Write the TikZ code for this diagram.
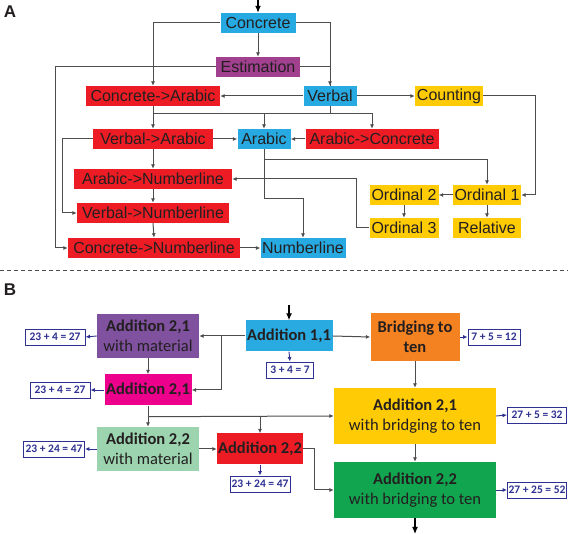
\documentclass[tikz,border=0pt]{standalone}
\usepackage{fontspec}
\setmainfont{Liberation Sans}
\newfontfamily\calfont{Carlito}
\usetikzlibrary{arrows.meta,calc}
\definecolor{txtc}{HTML}{231F20}
\definecolor{lnc}{HTML}{4D4D4D}
\definecolor{cyanA}{HTML}{27AAE1}
\definecolor{purA}{HTML}{A0408F}
\definecolor{redA}{HTML}{ED1C24}
\definecolor{yelA}{HTML}{FFCB05}
\definecolor{bBlue}{HTML}{29ABE2}
\definecolor{bOrange}{HTML}{F58220}
\definecolor{bPurple}{HTML}{7F519F}
\definecolor{bMag}{HTML}{EC008C}
\definecolor{bYel}{HTML}{FFCB05}
\definecolor{bLG}{HTML}{9DD4B0}
\definecolor{bRed}{HTML}{ED1C24}
\definecolor{bGreen}{HTML}{12A550}
\definecolor{navy}{HTML}{2E3192}
\begin{document}
\begin{tikzpicture}[x=1pt,y=-1pt,
  bA/.style={inner sep=0pt, minimum height=20, text=txtc, font=\fontsize{16}{16}\selectfont},
  bB/.style={inner sep=0pt, align=center, text=txtc, font=\calfont\fontsize{16.5}{20}\selectfont},
  eqb/.style={draw=navy, line width=0.9pt, fill=white, text=navy, inner sep=0pt, minimum height=16, font=\calfont\bfseries\fontsize{11.5}{12}\selectfont},
  arr/.style={draw=lnc, line width=1pt, -{Latex[length=4.5pt,width=4pt]}},
  ln/.style={draw=lnc, line width=1pt},
  barr/.style={draw=navy, line width=0.9pt, -{Latex[length=4.5pt,width=4pt]}},
  arrK/.style={draw=black, line width=1.2pt, -{Latex[length=7pt,width=6pt]}},
  lab/.style={font=\bfseries\fontsize{17}{17}\selectfont, text=txtc}
]
\useasboundingbox (0,0) rectangle (568,534);
% ---------- Part A ----------
\node[lab] (labA) at (10,12) {A};
\node[bA, fill=cyanA, minimum width=75] (conc) at (258,23) {Concrete};
\node[bA, fill=purA, minimum width=84] (est) at (258,67) {Estimation};
\node[bA, fill=redA, minimum width=134] (ca) at (153,96) {Concrete->Arabic};
\node[bA, fill=cyanA, minimum width=53] (verb) at (330,96) {Verbal};
\node[bA, fill=yelA, minimum width=68] (count) at (449,96) {Counting};
\node[bA, fill=redA, minimum width=120] (va) at (153,139) {Verbal->Arabic};
\node[bA, fill=cyanA, minimum width=53] (arab) at (264,139) {Arabic};
\node[bA, fill=redA, minimum width=133] (ac) at (372,139) {Arabic->Concrete};
\node[bA, fill=redA, minimum width=158] (an) at (153,179) {Arabic->Numberline};
\node[bA, fill=redA, minimum width=152] (vn) at (153,213) {Verbal->Numberline};
\node[bA, fill=redA, minimum width=172] (cn) at (154,248) {Concrete->Numberline};
\node[bA, fill=cyanA, minimum width=85] (nl) at (303,248) {Numberline};
\node[bA, fill=yelA, minimum width=69] (o2) at (404,195) {Ordinal 2};
\node[bA, fill=yelA, minimum width=68] (o1) at (487,195) {Ordinal 1};
\node[bA, fill=yelA, minimum width=69] (o3) at (404,228) {Ordinal 3};
\node[bA, fill=yelA, minimum width=68] (rel) at (487,228) {Relative};

\coordinate (topA) at (258,0);
\draw[arrK] (topA) -- (conc.north);
\draw[arr] (conc.west) -| (ca.north);
\draw[arr] (conc.east) -| (verb.north);
\draw[arr] (conc.south) -- (est.north);
\draw[ln] (est.east) -| (verb.north);
\draw[arr] (est.west) -- ++(-160,0) |- (cn.west);
\draw[arr] (verb.west) -- (ca.east);
\draw[arr] (verb.east) -- (count.west);
\draw[arr] (count.east) -- ++(52,0) |- (o1.east);
\draw[arr] (ca.south) -- (va.north);
\draw[ln] (verb.south) -- ++(0,7) coordinate (vj);
\draw[ln] (ca.south |- vj) -- (ac.north |- vj);
\draw[arr] (arab.north |- vj) -- (arab.north);
\draw[arr] (ac.north |- vj) -- (ac.north);
\draw[arr] (va.east) -- (arab.west);
\draw[arr] (ac.west) -- (arab.east);
\draw[arr] (va.south) -- (an.north);
\draw[arr] (va.west) -- ++(-30,0) |- (vn.west);
\draw[arr] (an.south) -- (vn.north);
\draw[arr] (vn.south) -- (cn.north);
\draw[arr] (cn.east) -- (nl.west);
\draw[ln] (arab.south) -- ++(0,49) coordinate (aj);
\draw[arr] ($(arab.south)+(0,10)$) -| (o1.north);
\draw[arr] (aj) -| (nl.north);
\draw[arr] (o3.west) -- ++(-13,0) |- (an.east);
\draw[arr] (o1.west) -- (o2.east);
\draw[arr] (o2.south) -- (o3.north);
\draw[arr] (o1.south) -- (rel.north);

\draw[lnc, line width=0.8pt, dash pattern=on 4pt off 3pt] (0,270) -- (568,270);

% ---------- Part B ----------
\node[lab] (labB) at (10,290) {B};
\node[bB, fill=bBlue, minimum width=87, minimum height=31] (a11) at (289,336) {\textbf{Addition 1,1}};
\node[bB, fill=bOrange, minimum width=89, minimum height=48] (bt) at (415,337) {\textbf{Bridging to}\\\textbf{ten}};
\node[bB, fill=bPurple, minimum width=102, minimum height=44] (a21m) at (148,336) {\textbf{Addition 2,1}\\with material};
\node[bB, fill=bMag, minimum width=87, minimum height=31] (a21) at (148,390) {\textbf{Addition 2,1}};
\node[bB, fill=bYel, minimum width=162, minimum height=56] (a21b) at (415,416) {\textbf{Addition 2,1}\\with bridging to ten};
\node[bB, fill=bLG, minimum width=102, minimum height=44] (a22m) at (148,449) {\textbf{Addition 2,2}\\with material};
\node[bB, fill=bRed, minimum width=86, minimum height=31] (a22) at (260,449) {\textbf{Addition 2,2}};
\node[bB, fill=bGreen, minimum width=162, minimum height=56] (a22b) at (415,490) {\textbf{Addition 2,2}\\with bridging to ten};

\node[eqb, minimum width=47] (e11) at (290,370) {3 + 4 = 7};
\node[eqb, minimum width=52] (ebt) at (494,337) {7 + 5 = 12};
\node[eqb, minimum width=60] (e21m) at (55,337) {23 + 4 = 27};
\node[eqb, minimum width=60] (e21) at (60,390) {23 + 4 = 27};
\node[eqb, minimum width=61] (e22m) at (54,449) {23 + 24 = 47};
\node[eqb, minimum width=60] (e22) at (260,484) {23 + 24 = 47};
\node[eqb, minimum width=59] (e21b) at (537,415) {27 + 5 = 32};
\node[eqb, minimum width=59] (e22b) at (537,490) {27 + 25 = 52};

\coordinate (topB) at (289,305);
\draw[arrK] (topB) -- (a11.north);
\draw[arr] (a11.east) -- (bt.west);
\draw[barr] (a11.south) -- (e11.north);
\draw[barr] (bt.east) -- (ebt.west);
\draw[arr] (a11.west) -- (a21m.east);
\draw[arr] ($(a11.west)+(-24,0)$) |- (a21.east);
\draw[barr] (a21m.west) -- (e21m.east);
\draw[arr] (a21m.south) -- (a21.north);
\draw[barr] (a21.west) -- (e21.east);
\draw[ln] (a21.south) -- ++(0,11) coordinate (j2);
\draw[arr] (j2) -- (a22m.north);
\draw[arr] (j2) -- (a21b.west);
\draw[arr] (j2 -| a22.north) -- (a22.north);
\draw[arr] (bt.south) -- (a21b.north);
\draw[barr] (a21b.east) -- (e21b.west);
\draw[arr] (a22m.east) -- (a22.west);
\draw[barr] (a22m.west) -- (e22m.east);
\draw[barr] (a22.south) -- (e22.north);
\draw[arr] (a22.east) -- ++(11,0) |- (a22b.west);
\draw[arr] (a21b.south) -- (a22b.north);
\draw[barr] (a22b.east) -- (e22b.west);
\coordinate (botB) at (415,534);
\draw[arrK] (a22b.south) -- (botB);
\end{tikzpicture}
\end{document}
